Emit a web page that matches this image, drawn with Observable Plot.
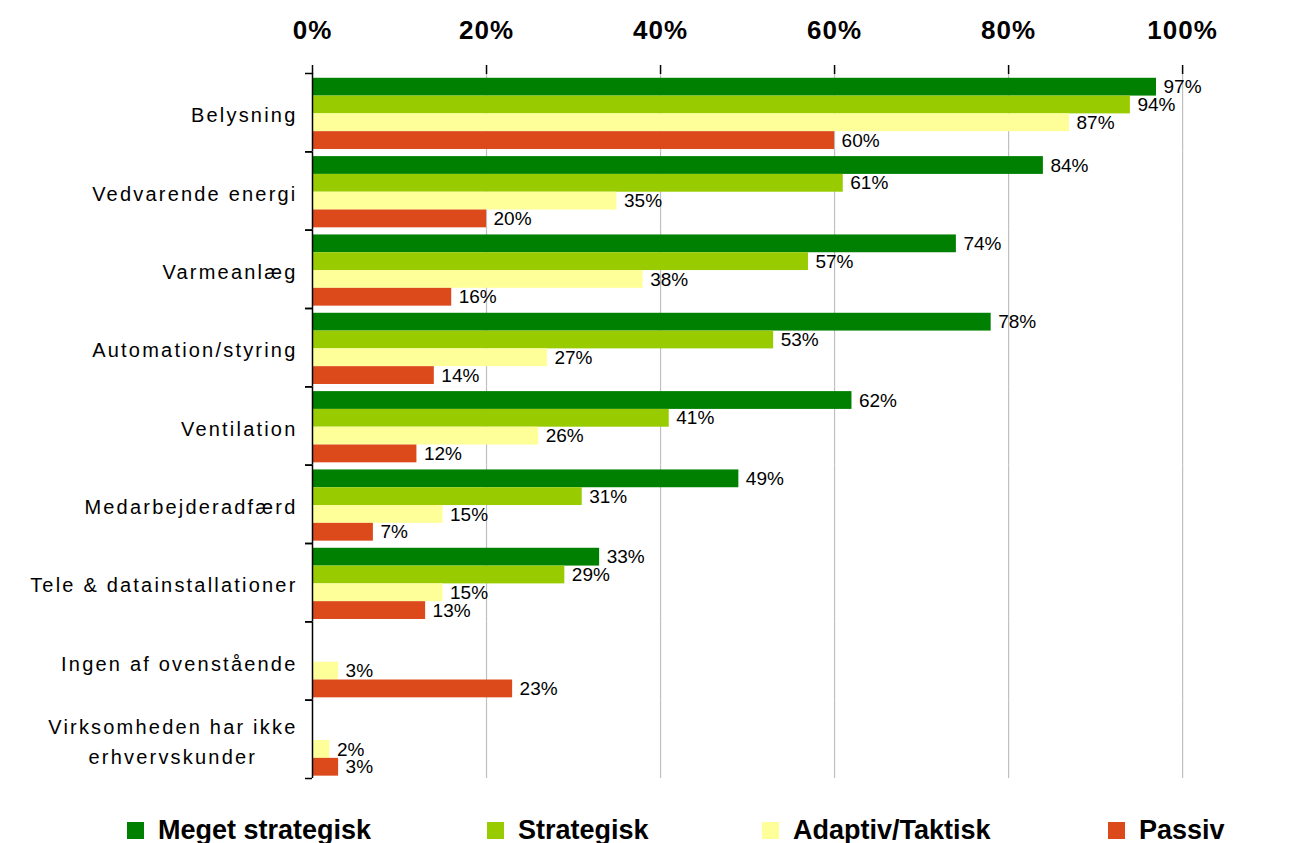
<!DOCTYPE html>
<html>
<head>
<meta charset="utf-8">
<script src="https://cdn.jsdelivr.net/npm/d3@7"></script>
<script src="https://cdn.jsdelivr.net/npm/@observablehq/plot@0.6"></script>
<style>
  body { margin: 0; background: #fff; font-family: "Liberation Sans", Arial, sans-serif; }
  #legend { display: grid; grid-template-columns: 360px 275px 346px auto; padding-left: 127px; padding-top: 17px; font-weight: bold; font-size: 27px; line-height: 27px; color: #000; }
  .item { display: flex; align-items: center; white-space: nowrap; }
  .sw { width: 17px; height: 17px; margin-right: 14px; flex: none; }
  g[aria-label="fy-axis tick label"] text { letter-spacing: 2.2px; }
  g[aria-label="x-axis tick label"] text { letter-spacing: 1px; }
</style>
</head>
<body>
<div id="chart"></div>
<div id="legend"></div>
<script>
const categories = [
  "Belysning",
  "Vedvarende energi",
  "Varmeanlæg",
  "Automation/styring",
  "Ventilation",
  "Medarbejderadfærd",
  "Tele & datainstallationer",
  "Ingen af ovenstående",
  "Virksomheden har ikke erhvervskunder"
];
const series = ["Meget strategisk", "Strategisk", "Adaptiv/Taktisk", "Passiv"];
const colors = ["#008000", "#99CC00", "#FFFF99", "#DC4A1B"];

const megetStrategisk = [97, 84, 74, 78, 62, 49, 33, null, null];
const strategisk      = [94, 61, 57, 53, 41, 31, 29, null, null];
const adaptivTaktisk  = [87, 35, 38, 27, 26, 15, 15, 3, 2];
const passiv          = [60, 20, 16, 14, 12, 7, 13, 23, 3];

const xTicks = [0, 20, 40, 60, 80, 100];

const seriesValues = [megetStrategisk, strategisk, adaptivTaktisk, passiv];
const data = [];
categories.forEach((c, i) => {
  series.forEach((s, j) => {
    const v = seriesValues[j][i];
    if (v != null) data.push({category: c, series: s, value: v});
  });
});

const labelText = c => c === "Virksomheden har ikke erhvervskunder" ? "Virksomheden har ikke\nerhvervskunder" : c;

const height = 800, marginTop = 73, marginBottom = 22;
const step = (height - marginTop - marginBottom) / categories.length;

const chart = Plot.plot({
  width: 1300,
  height,
  marginTop,
  marginBottom,
  marginLeft: 312,
  marginRight: 10,
  style: {fontFamily: '"Liberation Sans", Arial, sans-serif', color: "#000", background: "#fff"},
  x: {domain: [0, 112.4], axis: null},
  y: {domain: series, axis: null, paddingInner: 0, paddingOuter: 0.2, align: 0.67, round: false},
  fy: {domain: categories, padding: 0, axis: null, round: false},
  color: {domain: series, range: colors},
  marks: [
    Plot.gridX(xTicks.slice(1), {stroke: "#bfbfbf", strokeOpacity: 1, strokeWidth: 1.2}),
    Plot.barX(data, {fy: "category", y: "series", x: "value", fill: "series"}),
    Plot.ruleX([0], {stroke: "#000", strokeWidth: 1.5}),
    Plot.axisX(xTicks, {anchor: "top", tickSize: 9, tickPadding: 26, tickFormat: d => d + "%", fontSize: 26, fontWeight: "bold", line: true, strokeWidth: 1.5, label: null}),
    Plot.axisFy({anchor: "left", tickSize: 0, tickPadding: 15, fontSize: 20, lineHeight: 1.5, label: null, tickFormat: labelText}),
    Plot.axisFy({anchor: "left", tickSize: 7, strokeWidth: 1.5, tickFormat: () => "", dy: -step / 2, label: null}),
    Plot.axisFy({anchor: "left", tickSize: 7, strokeWidth: 1.5, tickFormat: () => "", dy: step / 2, label: null}),
    Plot.text(data, {fy: "category", y: "series", x: "value", text: d => d.value + "%", dx: 7, textAnchor: "start", fontSize: 19, fill: "#000"})
  ]
});
document.getElementById("chart").appendChild(chart);

// centre the lines of multi-line category labels within their block (as in the original)
chart.querySelectorAll('g[aria-label="fy-axis tick label"] text').forEach(t => {
  const tspans = t.querySelectorAll("tspan");
  if (tspans.length > 1) {
    const w = t.getBBox().width;
    t.setAttribute("text-anchor", "middle");
    tspans.forEach(ts => ts.setAttribute("dx", String(-w / 2)));
  }
});

const legend = document.getElementById("legend");
series.forEach((s, i) => {
  const item = document.createElement("div");
  item.className = "item";
  const sw = document.createElement("div");
  sw.className = "sw";
  sw.style.background = colors[i];
  const t = document.createElement("span");
  t.textContent = s;
  item.appendChild(sw);
  item.appendChild(t);
  legend.appendChild(item);
});
</script>
</body>
</html>
